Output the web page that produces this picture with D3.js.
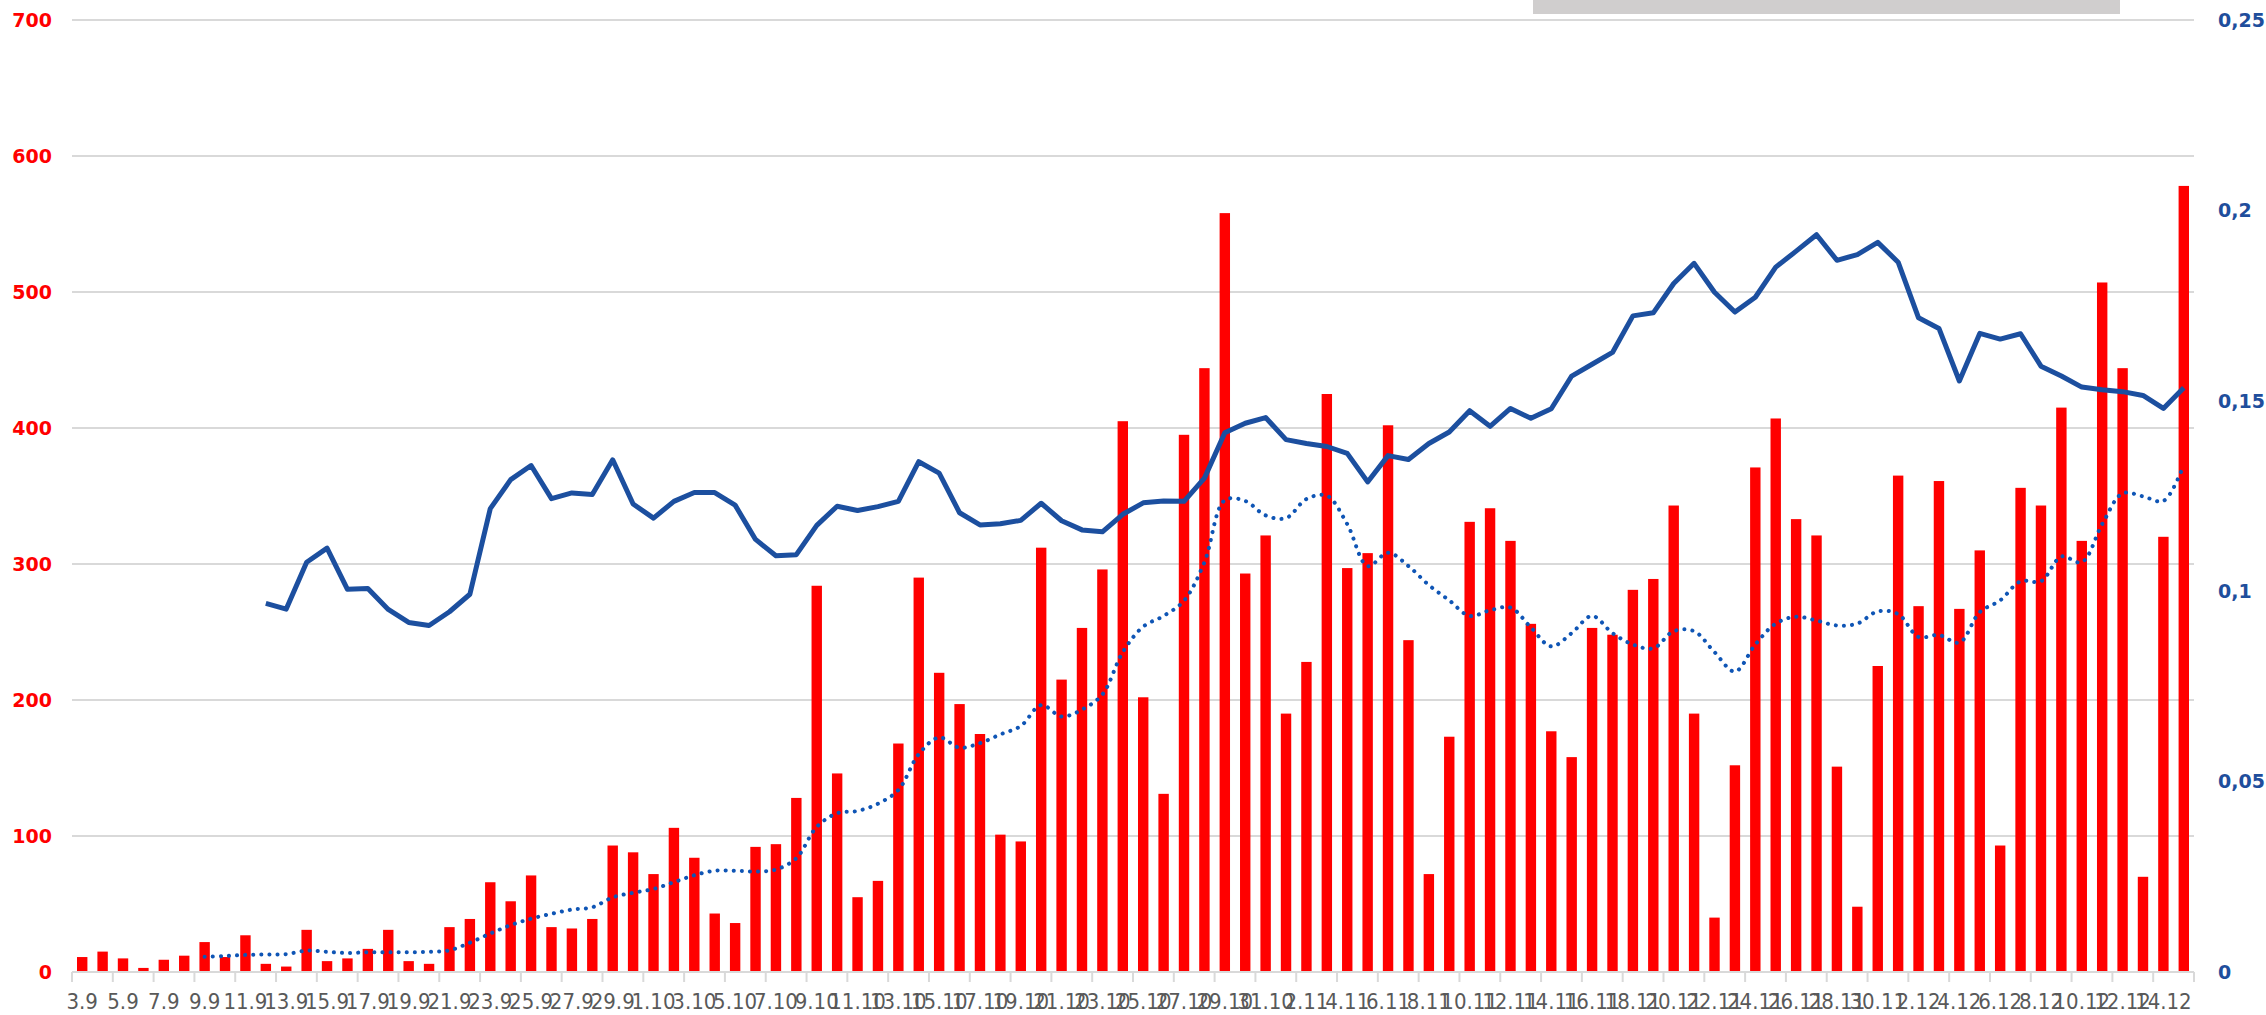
<!DOCTYPE html>
<html>
<head>
<meta charset="utf-8">
<script src="https://cdn.jsdelivr.net/npm/d3@7"></script>
<style>
  html, body { margin: 0; padding: 0; background: #fff; }
  svg { display: block; }
</style>
</head>
<body>
<script>
// daily dates (day.month)
var days = [
  "3.9","4.9","5.9","6.9","7.9","8.9","9.9","10.9","11.9","12.9","13.9","14.9","15.9","16.9","17.9","18.9","19.9","20.9",
  "21.9","22.9","23.9","24.9","25.9","26.9","27.9","28.9","29.9","30.9",
  "1.10","2.10","3.10","4.10","5.10","6.10","7.10","8.10","9.10","10.10","11.10","12.10","13.10","14.10","15.10","16.10",
  "17.10","18.10","19.10","20.10","21.10","22.10","23.10","24.10","25.10","26.10","27.10","28.10","29.10","30.10","31.10",
  "1.11","2.11","3.11","4.11","5.11","6.11","7.11","8.11","9.11","10.11","11.11","12.11","13.11","14.11","15.11","16.11",
  "17.11","18.11","19.11","20.11","21.11","22.11","23.11","24.11","25.11","26.11","27.11","28.11","29.11","30.11",
  "1.12","2.12","3.12","4.12","5.12","6.12","7.12","8.12","9.12","10.12","11.12","12.12","13.12","14.12","15.12"
];

// red bars, left axis
var cases = [
  11,15,10,3,9,12,22,11,27,6, 4,31,8,10,17,31,8,6,33,39,
  66,52,71,33,32,39,93,88,72,106, 84,43,36,92,94,128,284,146,55,67,
  168,290,220,197,175,101,96,312,215,253, 296,405,202,131,395,444,558,293,321,190,
  228,425,297,308,402,244,72,173,331,341, 317,256,177,158,253,248,281,289,343,190,
  40,152,371,407,333,321,151,48,225,365, 269,361,267,310,93,356,343,415,317,507,
  444,70,320,578
];

// solid blue line, right axis
var ratio = [
  null,null,null,null,null,null,null,null,null,.0968,
  .0953,.1076,.1113,.1005,.1007,.0952,.0918,.0910,.0946,.0992,
  .1217,.1293,.1330,.1243,.1258,.1254,.1345,.1229,.1192,.1236,
  .1259,.1259,.1226,.1136,.1093,.1096,.1173,.1223,.1212,.1222,
  .1236,.1340,.1310,.1206,.1174,.1177,.1186,.1231,.1185,.1161,
  .1156,.1202,.1232,.1237,.1236,.1297,.1416,.1441,.1456,.1398,
  .1388,.1380,.1362,.1287,.1356,.1346,.1388,.1418,.1474,.1433,
  .1480,.1454,.1479,.1565,.1596,.1627,.1723,.1731,.1808,.1861,
  .1785,.1733,.1772,.1851,.1893,.1936,.1869,.1884,.1916,.1864,
  .1718,.1690,.1552,.1677,.1662,.1676,.1591,.1565,.1536,.1529,
  .1524,.1514,.1480,.1534
];

// dotted blue line, right axis
var trend = [
  null,null,null,null,null,null,.0040,.0042,.0045,.0046,
  .0047,.0056,.0053,.0050,.0052,.0052,.0052,.0053,.0057,.0077,
  .0101,.0123,.0140,.0153,.0164,.0170,.0196,.0208,.0218,.0236,
  .0254,.0266,.0266,.0264,.0269,.0299,.0381,.0417,.0423,.0442,
  .0478,.0572,.0616,.0589,.0601,.0624,.0646,.0701,.0671,.0689,
  .0729,.0840,.0907,.0935,.0975,.1076,.1239,.1237,.1199,.1192,
  .1242,.1251,.1176,.1066,.1101,.1066,.1016,.0976,.0935,.0950,
  .0957,.0905,.0855,.0890,.0935,.0890,.0860,.0850,.0895,.0895,
  .0840,.0789,.0860,.0915,.0933,.0923,.0910,.0915,.0947,.0940,
  .0880,.0885,.0865,.0945,.0976,.1026,.1026,.1091,.1076,.1176,
  .1257,.1249,.1237,.1332
];

var leftTicks = [0,100,200,300,400,500,600,700];
var rightTicks = [0,0.05,0.1,0.15,0.2,0.25];

var W = 2266, H = 1015;
var pl = 72, pr = 2194, pt = 20, pb = 972;

var svg = d3.select("body").append("svg")
    .attr("width", W)
    .attr("height", H)
    .attr("viewBox", "0 0 " + W + " " + H);

svg.append("rect").attr("width", W).attr("height", H).attr("fill", "#fff");

// grey box peeking at the top
svg.append("rect")
    .attr("x", 1533).attr("y", 0)
    .attr("width", 587).attr("height", 14)
    .attr("fill", "#d0cece");

var x = d3.scaleBand().domain(days).range([pl, pr]).padding(0);
var y = d3.scaleLinear().domain([0, 700]).range([pb, pt]);
var y2 = d3.scaleLinear().domain([0, 0.25]).range([pb, pt]);

// gridlines
svg.append("g")
    .selectAll("line")
    .data(leftTicks.slice(1))
    .join("line")
    .attr("x1", pl).attr("x2", pr)
    .attr("y1", function(d){ return y(d); })
    .attr("y2", function(d){ return y(d); })
    .attr("stroke", "#d9d9d9")
    .attr("stroke-width", 2);

// left axis labels
svg.append("g")
    .selectAll("text")
    .data(leftTicks)
    .join("text")
    .attr("x", 52)
    .attr("y", function(d){ return y(d); })
    .attr("dy", "0.36em")
    .attr("text-anchor", "end")
    .attr("font-family", "DejaVu Sans, Verdana, sans-serif")
    .attr("font-weight", "bold")
    .attr("font-size", 19)
    .attr("fill", "#ff0000")
    .text(function(d){ return d; });

// right axis labels
var fmt = function(d){ return String(+d.toFixed(2)).replace(".", ","); };
svg.append("g")
    .selectAll("text")
    .data(rightTicks)
    .join("text")
    .attr("x", 2218)
    .attr("y", function(d){ return y2(d); })
    .attr("dy", "0.36em")
    .attr("font-family", "DejaVu Sans, Verdana, sans-serif")
    .attr("font-weight", "bold")
    .attr("font-size", 19)
    .attr("fill", "#1f4e9c")
    .text(fmt);

// bars
var bw = x.bandwidth() * 0.51;
svg.append("g")
    .selectAll("rect")
    .data(cases)
    .join("rect")
    .attr("x", function(d, i){ return x(days[i]) + (x.bandwidth() - bw) / 2; })
    .attr("y", function(d){ return y(d); })
    .attr("width", bw)
    .attr("height", function(d){ return y(0) - y(d); })
    .attr("fill", "#ff0000");

// x axis
var xa = svg.append("g").attr("transform", "translate(0," + pb + ")");
xa.append("line")
    .attr("x1", pl).attr("x2", pr)
    .attr("stroke", "#d9d9d9").attr("stroke-width", 2);
var labelled = days.filter(function(d, i){ return i % 2 === 0; });
var tickPos = labelled.map(function(d){ return x(d); });
tickPos.push(pr);
xa.selectAll("line.tk")
    .data(tickPos)
    .join("line")
    .attr("class", "tk")
    .attr("x1", function(d){ return d; }).attr("x2", function(d){ return d; })
    .attr("y1", 0).attr("y2", 10)
    .attr("stroke", "#d9d9d9").attr("stroke-width", 2);

var axis = d3.axisBottom(x)
    .tickValues(labelled)
    .tickSize(0)
    .tickPadding(0);
var ag = xa.append("g").call(axis);
ag.select(".domain").remove();
ag.selectAll("text")
    .attr("y", 37)
    .attr("dy", 0)
    .attr("font-family", "Liberation Sans Narrow, DejaVu Sans Condensed, sans-serif")
    .attr("font-size", 22)
    .attr("fill", "#595959");

// lines
var cx = function(d, i){ return x(days[i]) + x.bandwidth() / 2; };

var solid = d3.line()
    .defined(function(d){ return d !== null; })
    .x(cx)
    .y(function(d){ return y2(d); });

var dotted = d3.line()
    .defined(function(d){ return d !== null; })
    .x(cx)
    .y(function(d){ return y2(d); })
    .curve(d3.curveCatmullRom);

svg.append("path")
    .datum(trend)
    .attr("fill", "none")
    .attr("stroke", "#0f55b5")
    .attr("stroke-width", 4)
    .attr("stroke-linecap", "round")
    .attr("stroke-dasharray", "0.1 8")
    .attr("d", dotted);

svg.append("path")
    .datum(ratio)
    .attr("fill", "none")
    .attr("stroke", "#1c4f9f")
    .attr("stroke-width", 5)
    .attr("stroke-linejoin", "round")
    .attr("d", solid);
</script>
</body>
</html>
